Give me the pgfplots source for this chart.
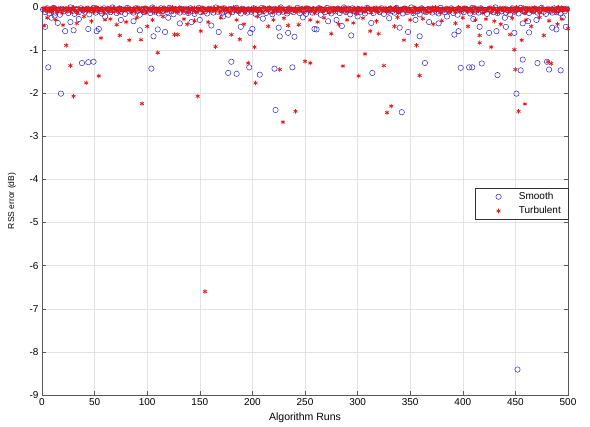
\documentclass[border=0pt]{standalone}
\usepackage{pgfplots}
\usepackage{pgfplotstable}
\pgfplotsset{compat=1.18}
\usepackage{fontspec}
\setmainfont{Liberation Sans}
\definecolor{smoothblue}{RGB}{40,40,205}
\definecolor{turbred}{RGB}{228,22,22}

\pgfplotstableread[row sep=\\]{
x s t\\
1 -0.06 -0.03\\3 -0.12 -0.08\\5 -0.03 -0.10\\7 -0.15 -0.04\\9 -0.08 -0.12\\11 -0.02 -0.01\\13 -0.13 -0.06\\15 -0.07 -0.09\\17 -0.18 -0.03\\19 -0.04 -0.14\\
21 -0.10 -0.05\\23 -0.06 -0.08\\25 -0.14 -0.02\\27 -0.01 -0.11\\29 -0.09 -0.04\\31 -0.16 -0.07\\33 -0.05 -0.13\\35 -0.12 -0.03\\37 -0.03 -0.06\\39 -0.08 -0.09\\
41 -0.11 -0.02\\43 -0.04 -0.07\\45 -0.17 -0.10\\47 -0.07 -0.04\\49 -0.02 -0.12\\51 -0.13 -0.01\\53 -0.06 -0.06\\55 -0.10 -0.09\\57 -0.15 -0.03\\59 -0.03 -0.14\\
61 -0.09 -0.05\\63 -0.05 -0.08\\65 -0.12 -0.02\\67 -0.01 -0.11\\69 -0.08 -0.04\\71 -0.14 -0.07\\73 -0.04 -0.13\\75 -0.11 -0.03\\77 -0.06 -0.06\\79 -0.16 -0.09\\
81 -0.02 -0.02\\83 -0.10 -0.07\\85 -0.07 -0.10\\87 -0.13 -0.04\\89 -0.03 -0.12\\91 -0.09 -0.01\\93 -0.18 -0.06\\95 -0.05 -0.09\\97 -0.12 -0.03\\99 -0.04 -0.14\\
101 -0.08 -0.05\\103 -0.14 -0.08\\105 -0.01 -0.02\\107 -0.11 -0.11\\109 -0.06 -0.04\\111 -0.15 -0.07\\113 -0.03 -0.13\\115 -0.09 -0.03\\117 -0.07 -0.06\\119 -0.12 -0.09\\
121 -0.02 -0.02\\123 -0.10 -0.07\\125 -0.17 -0.10\\127 -0.05 -0.04\\129 -0.08 -0.12\\131 -0.13 -0.01\\133 -0.04 -0.06\\135 -0.11 -0.09\\137 -0.06 -0.03\\139 -0.14 -0.14\\
141 -0.03 -0.05\\143 -0.09 -0.08\\145 -0.16 -0.02\\147 -0.07 -0.11\\149 -0.02 -0.04\\151 -0.12 -0.07\\153 -0.05 -0.13\\155 -0.10 -0.03\\157 -0.15 -0.06\\159 -0.04 -0.09\\
161 -0.08 -0.02\\163 -0.13 -0.07\\165 -0.01 -0.10\\167 -0.11 -0.04\\169 -0.06 -0.12\\171 -0.14 -0.01\\173 -0.03 -0.06\\175 -0.09 -0.09\\177 -0.18 -0.03\\179 -0.05 -0.14\\
181 -0.12 -0.05\\183 -0.07 -0.08\\185 -0.02 -0.02\\187 -0.10 -0.11\\189 -0.15 -0.04\\191 -0.04 -0.07\\193 -0.08 -0.13\\195 -0.13 -0.03\\197 -0.06 -0.06\\199 -0.11 -0.09\\
201 -0.03 -0.02\\203 -0.16 -0.07\\205 -0.07 -0.10\\207 -0.12 -0.04\\209 -0.02 -0.12\\211 -0.09 -0.01\\213 -0.14 -0.06\\215 -0.05 -0.09\\217 -0.10 -0.03\\219 -0.17 -0.14\\
221 -0.04 -0.05\\223 -0.08 -0.08\\225 -0.13 -0.02\\227 -0.01 -0.11\\229 -0.11 -0.04\\231 -0.06 -0.07\\233 -0.15 -0.13\\235 -0.03 -0.03\\237 -0.09 -0.06\\239 -0.12 -0.09\\
241 -0.07 -0.02\\243 -0.02 -0.07\\245 -0.14 -0.10\\247 -0.05 -0.04\\249 -0.10 -0.12\\251 -0.16 -0.01\\253 -0.04 -0.06\\255 -0.08 -0.09\\257 -0.13 -0.03\\259 -0.06 -0.14\\
261 -0.11 -0.05\\263 -0.03 -0.08\\265 -0.18 -0.02\\267 -0.07 -0.11\\269 -0.12 -0.04\\271 -0.02 -0.07\\273 -0.09 -0.13\\275 -0.15 -0.03\\277 -0.05 -0.06\\279 -0.10 -0.09\\
281 -0.04 -0.02\\283 -0.14 -0.07\\285 -0.08 -0.10\\287 -0.01 -0.04\\289 -0.12 -0.12\\291 -0.06 -0.01\\293 -0.17 -0.06\\295 -0.03 -0.09\\297 -0.09 -0.03\\299 -0.13 -0.14\\
301 -0.05 -0.05\\303 -0.11 -0.08\\305 -0.07 -0.02\\307 -0.15 -0.11\\309 -0.02 -0.04\\311 -0.10 -0.07\\313 -0.06 -0.13\\315 -0.14 -0.03\\317 -0.04 -0.06\\319 -0.08 -0.09\\
321 -0.12 -0.02\\323 -0.03 -0.07\\325 -0.16 -0.10\\327 -0.07 -0.04\\329 -0.11 -0.12\\331 -0.05 -0.01\\333 -0.09 -0.06\\335 -0.13 -0.09\\337 -0.02 -0.03\\339 -0.10 -0.14\\
341 -0.06 -0.05\\343 -0.15 -0.08\\345 -0.04 -0.02\\347 -0.12 -0.11\\349 -0.08 -0.04\\351 -0.01 -0.07\\353 -0.14 -0.13\\355 -0.06 -0.03\\357 -0.10 -0.06\\359 -0.17 -0.09\\
361 -0.03 -0.02\\363 -0.09 -0.07\\365 -0.12 -0.10\\367 -0.05 -0.04\\369 -0.07 -0.12\\371 -0.13 -0.01\\373 -0.04 -0.06\\375 -0.11 -0.09\\377 -0.15 -0.03\\379 -0.02 -0.14\\
381 -0.08 -0.05\\383 -0.12 -0.08\\385 -0.06 -0.02\\387 -0.10 -0.11\\389 -0.03 -0.04\\391 -0.14 -0.07\\393 -0.07 -0.13\\395 -0.18 -0.03\\397 -0.05 -0.06\\399 -0.09 -0.09\\
401 -0.12 -0.02\\403 -0.04 -0.07\\405 -0.08 -0.10\\407 -0.15 -0.04\\409 -0.02 -0.12\\411 -0.11 -0.01\\413 -0.06 -0.06\\415 -0.13 -0.09\\417 -0.03 -0.03\\419 -0.10 -0.14\\
421 -0.07 -0.05\\423 -0.16 -0.08\\425 -0.05 -0.02\\427 -0.09 -0.11\\429 -0.12 -0.04\\431 -0.01 -0.07\\433 -0.14 -0.13\\435 -0.06 -0.03\\437 -0.10 -0.06\\439 -0.04 -0.09\\
441 -0.13 -0.02\\443 -0.08 -0.07\\445 -0.17 -0.10\\447 -0.03 -0.04\\449 -0.11 -0.12\\451 -0.06 -0.01\\453 -0.15 -0.06\\455 -0.02 -0.09\\457 -0.09 -0.03\\459 -0.12 -0.14\\
461 -0.05 -0.05\\463 -0.14 -0.08\\465 -0.07 -0.02\\467 -0.10 -0.11\\469 -0.04 -0.04\\471 -0.13 -0.07\\473 -0.08 -0.13\\475 -0.02 -0.03\\477 -0.11 -0.06\\479 -0.16 -0.09\\
481 -0.06 -0.02\\483 -0.09 -0.07\\485 -0.13 -0.10\\487 -0.03 -0.04\\489 -0.12 -0.12\\491 -0.07 -0.01\\493 -0.15 -0.06\\495 -0.05 -0.09\\497 -0.10 -0.03\\499 -0.04 -0.08\\
}\band

% Turbulent, dense band at even runs
\pgfplotstableread[row sep=\\]{
x y\\
2 -0.05\\4 -0.02\\6 -0.09\\8 -0.04\\10 -0.07\\12 -0.01\\14 -0.11\\16 -0.03\\18 -0.06\\20 -0.08\\
22 -0.02\\24 -0.10\\26 -0.04\\28 -0.06\\30 -0.01\\32 -0.08\\34 -0.12\\36 -0.03\\38 -0.05\\40 -0.07\\
42 -0.09\\44 -0.02\\46 -0.06\\48 -0.04\\50 -0.10\\52 -0.01\\54 -0.07\\56 -0.03\\58 -0.08\\60 -0.05\\
62 -0.03\\64 -0.11\\66 -0.05\\68 -0.02\\70 -0.08\\72 -0.06\\74 -0.01\\76 -0.09\\78 -0.04\\80 -0.07\\
82 -0.06\\84 -0.03\\86 -0.10\\88 -0.05\\90 -0.02\\92 -0.07\\94 -0.04\\96 -0.12\\98 -0.01\\100 -0.08\\
102 -0.04\\104 -0.08\\106 -0.02\\108 -0.06\\110 -0.11\\112 -0.03\\114 -0.07\\116 -0.01\\118 -0.09\\120 -0.05\\
122 -0.07\\124 -0.01\\126 -0.05\\128 -0.09\\130 -0.03\\132 -0.06\\134 -0.10\\136 -0.02\\138 -0.04\\140 -0.08\\
142 -0.02\\144 -0.06\\146 -0.12\\148 -0.04\\150 -0.07\\152 -0.01\\154 -0.05\\156 -0.09\\158 -0.03\\160 -0.06\\
162 -0.08\\164 -0.03\\166 -0.05\\168 -0.01\\170 -0.10\\172 -0.06\\174 -0.02\\176 -0.07\\178 -0.11\\180 -0.04\\
182 -0.01\\184 -0.07\\186 -0.04\\188 -0.09\\190 -0.02\\192 -0.05\\194 -0.08\\196 -0.03\\198 -0.06\\200 -0.10\\
202 -0.06\\204 -0.02\\206 -0.08\\208 -0.05\\210 -0.12\\212 -0.03\\214 -0.07\\216 -0.01\\218 -0.04\\220 -0.09\\
222 -0.03\\224 -0.09\\226 -0.01\\228 -0.06\\230 -0.04\\232 -0.10\\234 -0.02\\236 -0.08\\238 -0.05\\240 -0.07\\
242 -0.10\\244 -0.04\\246 -0.07\\248 -0.02\\250 -0.05\\252 -0.01\\254 -0.09\\256 -0.06\\258 -0.03\\260 -0.11\\
262 -0.05\\264 -0.01\\266 -0.06\\268 -0.08\\270 -0.03\\272 -0.07\\274 -0.02\\276 -0.10\\278 -0.04\\280 -0.06\\
282 -0.02\\284 -0.08\\286 -0.04\\288 -0.01\\290 -0.09\\292 -0.05\\294 -0.11\\296 -0.03\\298 -0.07\\300 -0.02\\
302 -0.07\\304 -0.03\\306 -0.10\\308 -0.05\\310 -0.01\\312 -0.06\\314 -0.04\\316 -0.08\\318 -0.02\\320 -0.12\\
322 -0.04\\324 -0.06\\326 -0.02\\328 -0.09\\330 -0.07\\332 -0.03\\334 -0.05\\336 -0.01\\338 -0.10\\340 -0.06\\
342 -0.09\\344 -0.01\\346 -0.05\\348 -0.03\\350 -0.08\\352 -0.11\\354 -0.02\\356 -0.06\\358 -0.04\\360 -0.07\\
362 -0.03\\364 -0.07\\366 -0.12\\368 -0.02\\370 -0.05\\372 -0.09\\374 -0.01\\376 -0.04\\378 -0.08\\380 -0.05\\
382 -0.06\\384 -0.02\\386 -0.04\\388 -0.10\\390 -0.03\\392 -0.07\\394 -0.05\\396 -0.01\\398 -0.09\\400 -0.03\\
402 -0.01\\404 -0.09\\406 -0.06\\408 -0.04\\410 -0.11\\412 -0.02\\414 -0.08\\416 -0.05\\418 -0.03\\420 -0.07\\
422 -0.08\\424 -0.04\\426 -0.01\\428 -0.07\\430 -0.03\\432 -0.10\\434 -0.06\\436 -0.02\\438 -0.05\\440 -0.09\\
442 -0.05\\444 -0.11\\446 -0.03\\448 -0.06\\450 -0.02\\452 -0.08\\454 -0.04\\456 -0.07\\458 -0.01\\460 -0.10\\
462 -0.02\\464 -0.05\\466 -0.09\\468 -0.01\\470 -0.06\\472 -0.04\\474 -0.12\\476 -0.03\\478 -0.07\\480 -0.05\\
482 -0.07\\484 -0.03\\486 -0.06\\488 -0.10\\490 -0.02\\492 -0.08\\494 -0.01\\496 -0.05\\498 -0.04\\500 -0.06\\
}\bandb

% Smooth: scattered values away from the dense band
\pgfplotstableread[row sep=\\]{
x y\\
3 -0.46\\6 -1.40\\9 -0.25\\12 -0.20\\15 -0.37\\18 -2.01\\22 -0.56\\27 -0.35\\30 -0.54\\35 -0.28\\
38 -1.30\\44 -1.28\\44 -0.51\\49 -1.27\\52 -0.56\\54 -0.51\\60 -0.22\\75 -0.30\\87 -0.33\\93 -0.54\\
104 -1.43\\106 -0.68\\110 -0.52\\117 -0.58\\120 -0.25\\131 -0.38\\142 -0.35\\150 -0.30\\161 -0.43\\168 -0.58\\
172 -0.22\\177 -1.53\\180 -1.27\\185 -1.55\\189 -0.46\\197 -1.40\\198 -0.60\\200 -0.51\\207 -1.57\\210 -0.27\\
221 -1.43\\222 -2.39\\225 -0.48\\226 -0.68\\234 -0.60\\238 -1.40\\240 -0.69\\248 -0.24\\259 -0.51\\261 -0.52\\
272 -0.33\\280 -0.30\\285 -0.44\\294 -0.66\\300 -0.22\\313 -0.37\\314 -1.53\\330 -0.26\\340 -0.48\\342 -2.44\\
348 -0.58\\355 -0.30\\359 -0.68\\364 -1.30\\368 -0.35\\377 -0.38\\385 -0.22\\392 -0.64\\396 -0.56\\398 -1.41\\
406 -1.40\\409 -1.40\\410 -0.28\\416 -0.46\\418 -1.31\\425 -0.60\\432 -0.56\\433 -1.58\\440 -0.25\\441 -0.46\\
449 -0.60\\451 -2.01\\452 -8.41\\455 -1.47\\457 -1.22\\457 -0.38\\462 -0.33\\463 -0.59\\470 -0.30\\471 -1.30\\
480 -1.27\\482 -1.45\\485 -0.48\\489 -0.52\\493 -1.47\\495 -0.24\\498 -0.46\\
}\smo

% Turbulent: scattered values away from the dense band
\pgfplotstableread[row sep=\\]{
x y\\
2 -0.44\\5 -0.25\\13 -0.30\\20 -0.42\\23 -0.89\\27 -1.36\\30 -2.07\\33 -0.38\\40 -0.22\\42 -1.76\\
47 -0.33\\54 -1.60\\56 -0.72\\60 -0.30\\65 -0.28\\71 -0.41\\74 -0.66\\80 -0.35\\83 -0.77\\90 -0.25\\
94 -0.76\\95 -2.24\\100 -0.45\\105 -0.30\\110 -1.06\\115 -0.22\\126 -0.64\\129 -0.64\\135 -0.28\\138 -0.40\\
145 -0.32\\148 -2.07\\151 -0.56\\155 -6.60\\158 -0.35\\165 -0.92\\170 -0.25\\180 -0.64\\185 -0.30\\188 -0.75\\
192 -0.40\\196 -1.30\\202 -0.93\\203 -1.76\\205 -0.22\\215 -0.45\\220 -0.30\\226 -1.45\\229 -2.67\\230 -0.26\\
234 -0.43\\241 -2.42\\244 -0.41\\250 -1.26\\255 -1.30\\255 -0.30\\262 -0.35\\268 -0.25\\275 -0.62\\282 -0.40\\
286 -1.37\\290 -0.30\\296 -0.37\\301 -1.60\\305 -0.26\\307 -1.09\\312 -0.56\\318 -0.33\\320 -0.62\\325 -1.36\\
328 -2.45\\332 -2.30\\335 -0.45\\338 -0.24\\344 -0.77\\350 -0.30\\356 -0.89\\359 -1.59\\362 -0.27\\372 -0.40\\
380 -0.32\\393 -0.38\\400 -0.25\\405 -0.45\\412 -0.30\\416 -0.83\\416 -0.66\\422 -0.28\\427 -0.93\\430 -0.33\\
436 -0.40\\445 -0.64\\447 -0.26\\449 -0.99\\450 -1.45\\453 -2.42\\456 -0.77\\459 -2.25\\460 -0.30\\465 -0.45\\
473 -0.24\\477 -0.66\\481 -1.27\\482 -0.32\\484 -1.31\\490 -0.40\\494 -0.28\\500 -0.50\\
}\tur

\begin{document}
\begin{tikzpicture}
\useasboundingbox (-42pt,-32pt) rectangle (548pt,395pt);
\begin{axis}[
  at={(0pt,0pt)}, anchor=south west,
  scale only axis, width=526pt, height=388pt,
  xmin=0, xmax=500, ymin=-9, ymax=0,
  xtick={0,50,...,500}, ytick={-9,-8,...,0},
  grid=major, major grid style={gray!22, line width=0.5pt},
  axis line style={black!65, line width=0.6pt},
  tick style={black!65, line width=0.5pt},
  tick align=inside, major tick length=4pt,
  clip=false,
  /pgf/number format/assume math mode=true,
  ticklabel style={font=\fontsize{10}{12}\selectfont},
  xlabel={Algorithm Runs}, ylabel={RSS error (dB)},
  xlabel style={font=\fontsize{10.5}{12}\selectfont, at={(axis description cs:0.5,-0.059)}, anchor=center},
  ylabel style={font=\fontsize{8.5}{10}\selectfont, at={(axis description cs:-0.057,0.5)}, anchor=center},
  legend style={at={(1,0.533)}, anchor=north east, draw=black!80, fill=white,
    font=\fontsize{10}{12}\selectfont, inner xsep=5pt, inner ysep=2pt,
    row sep=1.5pt, cells={anchor=west}},
  myleg/.style={legend image code/.code={\path (0pt,0pt) (36pt,0pt); \draw plot coordinates {(18pt,0pt)};}},
]
\addplot[only marks, mark=o, mark size=2.7pt, color=smoothblue, line width=0.5pt, myleg] table[x=x, y=y] {\smo};
\addlegendentry{Smooth}
\addplot[only marks, mark=o, mark size=2.7pt, color=smoothblue, line width=0.5pt, forget plot] table[x=x, y=s] {\band};
\addplot[only marks, mark=asterisk, mark size=2.3pt, color=turbred, line width=0.7pt, myleg] table[x=x, y=y] {\tur};
\addlegendentry{Turbulent}
\addplot[only marks, mark=asterisk, mark size=2.3pt, color=turbred, line width=0.7pt, forget plot] table[x=x, y=t] {\band};
\addplot[only marks, mark=asterisk, mark size=2.3pt, color=turbred, line width=0.7pt, forget plot] table[x=x, y=y] {\bandb};
\end{axis}
\end{tikzpicture}
\end{document}
